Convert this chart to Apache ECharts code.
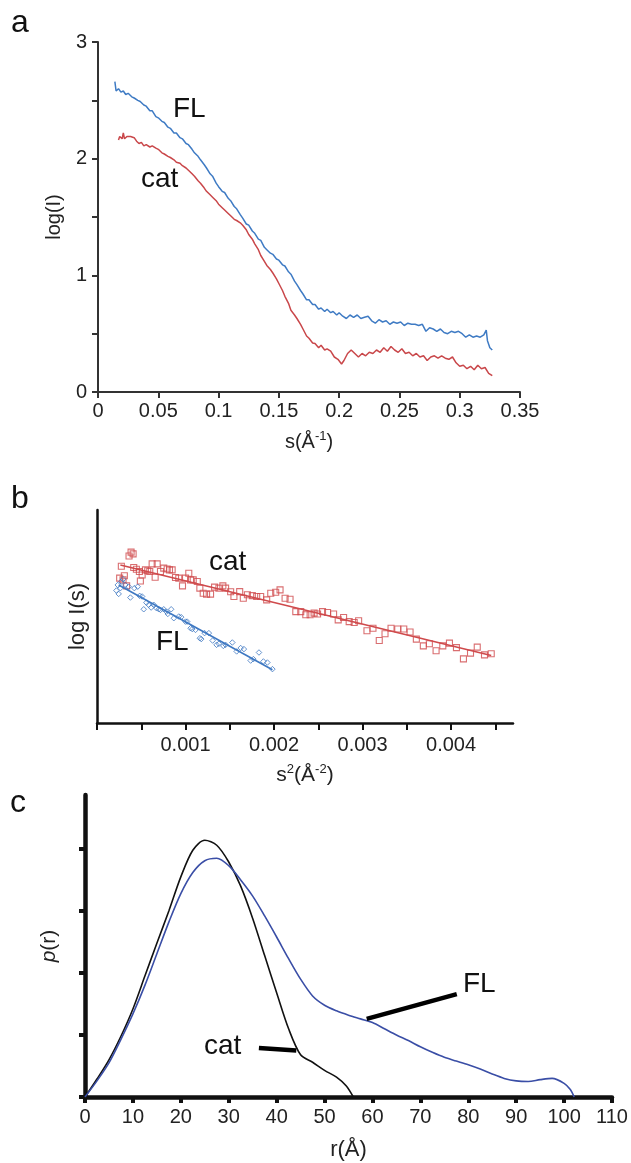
<!DOCTYPE html>
<html><head><meta charset="utf-8">
<script src="https://cdn.jsdelivr.net/npm/echarts@6/dist/echarts.min.js"></script>
<style>html,body{margin:0;padding:0;background:#fff}#c{width:631px;height:1163px}</style>
</head><body><div id="c"></div>
<script>
const FONT = "'Liberation Sans', Arial, sans-serif";

// ---------- Panel a : log(I) vs s ----------
const aS_FL = [0.014,0.015,0.017,0.019,0.021,0.023,0.025,0.028,0.030,0.033,0.035,0.038,0.040,0.043,0.045,0.048,0.050,0.053,0.055,0.058,0.060,0.063,0.065,0.068,0.070,0.073,0.075,0.078,0.080,0.083,0.085,0.088,0.090,0.093,0.095,0.098,0.100,0.103,0.105,0.108,0.110,0.113,0.115,0.118,0.120,0.123,0.125,0.128,0.130,0.133,0.135,0.138,0.140,0.143,0.145,0.148,0.150,0.153,0.155,0.158,0.160,0.163,0.165,0.168,0.170,0.173,0.175,0.178,0.180,0.183,0.185,0.188,0.190,0.193,0.195,0.198,0.200,0.203,0.206,0.209,0.212,0.215,0.218,0.221,0.224,0.227,0.230,0.233,0.236,0.239,0.242,0.245,0.248,0.251,0.254,0.257,0.260,0.263,0.266,0.269,0.272,0.275,0.278,0.281,0.284,0.287,0.290,0.293,0.296,0.299,0.302,0.305,0.308,0.311,0.314,0.317,0.320,0.322,0.323,0.325,0.327];
const aLogI_FL = [2.66,2.58,2.60,2.57,2.58,2.55,2.56,2.53,2.52,2.50,2.49,2.46,2.45,2.41,2.41,2.36,2.35,2.32,2.31,2.27,2.26,2.22,2.22,2.18,2.17,2.13,2.12,2.08,2.05,2.02,1.99,1.95,1.92,1.87,1.85,1.79,1.76,1.72,1.71,1.66,1.64,1.59,1.57,1.52,1.49,1.44,1.43,1.38,1.36,1.31,1.30,1.24,1.22,1.19,1.18,1.14,1.13,1.09,1.08,1.03,1.01,0.95,0.92,0.87,0.84,0.79,0.79,0.75,0.75,0.71,0.72,0.69,0.71,0.68,0.69,0.66,0.68,0.65,0.63,0.66,0.64,0.66,0.63,0.64,0.65,0.61,0.59,0.62,0.60,0.61,0.58,0.60,0.59,0.60,0.57,0.59,0.58,0.58,0.57,0.58,0.52,0.55,0.54,0.52,0.54,0.51,0.50,0.52,0.51,0.52,0.50,0.47,0.49,0.47,0.48,0.47,0.49,0.53,0.44,0.38,0.36];
const aS_cat = [0.017,0.018,0.020,0.021,0.022,0.024,0.027,0.030,0.032,0.034,0.036,0.038,0.040,0.043,0.045,0.048,0.050,0.053,0.055,0.058,0.060,0.063,0.065,0.068,0.070,0.073,0.075,0.078,0.080,0.083,0.085,0.088,0.090,0.093,0.095,0.098,0.100,0.103,0.105,0.108,0.110,0.113,0.115,0.118,0.120,0.123,0.125,0.128,0.130,0.133,0.135,0.138,0.140,0.143,0.145,0.148,0.150,0.153,0.155,0.158,0.160,0.163,0.165,0.168,0.170,0.173,0.175,0.178,0.180,0.183,0.185,0.188,0.190,0.193,0.196,0.199,0.202,0.204,0.207,0.210,0.213,0.216,0.219,0.222,0.225,0.228,0.231,0.234,0.237,0.240,0.243,0.246,0.249,0.252,0.255,0.258,0.261,0.264,0.267,0.270,0.273,0.276,0.279,0.282,0.285,0.288,0.291,0.294,0.297,0.300,0.303,0.306,0.309,0.312,0.315,0.318,0.321,0.324,0.327];
const aLogI_cat = [2.16,2.19,2.17,2.22,2.17,2.19,2.19,2.18,2.15,2.13,2.14,2.11,2.12,2.10,2.11,2.09,2.08,2.05,2.04,2.02,2.01,1.99,1.97,1.96,1.94,1.92,1.90,1.87,1.85,1.81,1.79,1.75,1.72,1.69,1.67,1.64,1.61,1.58,1.56,1.53,1.51,1.48,1.47,1.45,1.43,1.39,1.35,1.31,1.27,1.22,1.17,1.12,1.085,1.05,1.02,0.97,0.93,0.87,0.82,0.76,0.70,0.66,0.63,0.58,0.54,0.48,0.46,0.42,0.415,0.38,0.40,0.36,0.37,0.35,0.30,0.28,0.24,0.27,0.33,0.36,0.33,0.30,0.33,0.31,0.34,0.33,0.36,0.34,0.38,0.35,0.39,0.36,0.34,0.37,0.33,0.34,0.31,0.33,0.30,0.31,0.27,0.30,0.31,0.29,0.31,0.29,0.28,0.30,0.25,0.22,0.23,0.20,0.22,0.19,0.23,0.20,0.21,0.16,0.14];

// ---------- Panel b : Guinier plot (log I(s) vs s^2, arbitrary units) ----------
const bS2_cat = [0.000385,0.000362,0.000408,0.000275,0.000256,0.000309,0.000335,0.000294,0.000415,0.000445,0.000479,0.00051,0.00049,0.000547,0.000573,0.000596,0.000623,0.00068,0.000657,0.000717,0.000754,0.000793,0.000819,0.000849,0.000887,0.000924,0.000966,0.001,0.001037,0.001057,0.001087,0.001133,0.001162,0.0012,0.001238,0.001283,0.001328,0.001377,0.001422,0.001453,0.00151,0.001547,0.001612,0.001653,0.001699,0.001755,0.001804,0.001849,0.001917,0.001963,0.002019,0.002068,0.002125,0.002181,0.002246,0.002302,0.002359,0.002408,0.002453,0.002492,0.002548,0.002605,0.002673,0.002725,0.002786,0.002849,0.002906,0.002956,0.00305,0.003118,0.003189,0.003254,0.003322,0.003398,0.003466,0.003537,0.003608,0.003687,0.003755,0.003831,0.003907,0.003982,0.004061,0.00414,0.00422,0.004296,0.004378,0.004454];
const bLogI_cat = [8.02,7.84,7.94,7.36,6.80,6.91,6.44,6.72,7.30,7.22,7.11,6.95,6.67,7.19,7.15,7.11,7.47,7.47,6.84,7.11,7.27,7.23,7.19,7.19,6.83,6.80,6.44,6.80,7.03,6.72,6.72,6.64,6.33,6.09,6.05,6.05,6.38,6.33,6.44,6.33,6.16,5.94,6.17,5.86,6.02,5.98,5.94,5.94,5.78,6.09,6.14,6.25,5.86,5.81,5.23,5.23,5.08,5.08,5.16,5.12,5.23,5.19,5.12,4.84,4.95,4.76,4.72,4.80,4.33,4.45,3.87,4.19,4.45,4.41,4.41,4.27,3.94,3.62,3.72,3.39,3.62,3.75,3.54,3.01,3.28,3.56,3.20,3.25];
const bS2_FL = [0.000219,0.000245,0.000234,0.000275,0.000264,0.000294,0.00032,0.000377,0.000358,0.000422,0.00046,0.000482,0.00051,0.000528,0.000558,0.000584,0.000612,0.000641,0.000672,0.000698,0.000717,0.000754,0.000785,0.0008,0.000838,0.000868,0.000924,0.000951,0.001,0.001019,0.001057,0.001076,0.001113,0.001162,0.001178,0.001215,0.001264,0.001306,0.001351,0.001377,0.001427,0.001453,0.001529,0.001578,0.001623,0.00166,0.001736,0.001767,0.00183,0.00188,0.001925,0.001982];
const bLogI_FL = [6.22,6.06,6.48,6.64,6.33,6.75,6.48,5.89,6.40,6.33,6.40,5.97,5.94,5.34,5.65,5.55,5.42,5.55,5.39,5.34,5.31,5.34,5.23,5.12,5.34,4.92,5.00,4.97,4.76,4.76,4.45,4.41,4.37,3.98,3.94,4.22,4.22,3.87,3.67,3.72,3.62,3.67,3.78,3.36,3.52,3.47,2.93,3.00,3.31,2.89,2.84,2.53];
const bFitS2_cat = [0.000264, 0.004454];
const bFitLogI_cat = [7.42, 3.17];
const bFitS2_FL = [0.000245, 0.001982];
const bFitLogI_FL = [6.48, 2.50];

// ---------- Panel c : pair distance distribution p(r) ----------
const cR_cat = [0,2.5,5,7.5,10,12.5,15,17.5,20,22.5,25,27.5,30,32.5,35,37.5,40,42.5,45,47.5,50,52.5,54.5,56];
const cP_cat = [0,0.29,0.60,0.98,1.42,1.95,2.48,3.00,3.55,3.98,4.14,4.06,3.79,3.40,2.88,2.28,1.68,1.10,0.68,0.56,0.43,0.32,0.18,0];
const cR_FL = [0,2.5,5,7.5,10,12.5,15,17.5,20,22.5,25,27.5,30,32.5,35,37.5,40,42.5,45,47.5,50,52.5,55,57.5,60,62.5,65,67.5,70,72.5,75,77.5,80,82.5,85,87.5,90,92.5,95,97.5,100,101.3,102.1];
const cP_FL = [0,0.26,0.55,0.93,1.34,1.80,2.31,2.82,3.28,3.62,3.81,3.85,3.73,3.50,3.24,2.92,2.58,2.23,1.90,1.63,1.48,1.39,1.32,1.26,1.20,1.10,1.00,0.91,0.81,0.72,0.64,0.58,0.52,0.45,0.37,0.30,0.26,0.25,0.28,0.30,0.22,0.12,0];
const cXTicks = [0,10,20,30,40,50,60,70,80,90,100,110];

const zip = (xs, ys) => xs.map((x, i) => [x, ys[i]]);

const RED_A = '#c9474a', BLUE_A = '#3f7bc4';
const RED_B = '#cf4a4c', BLUE_B = '#3e78c2';
const BLUE_C = '#3a4ea6';

const chart = echarts.init(document.getElementById('c'), null, {renderer: 'canvas'});

const isK = (v, k) => Math.abs(v * k - Math.round(v * k)) < 1e-6;

const option = {
  animation: false,
  backgroundColor: '#ffffff',
  textStyle: {fontFamily: FONT},
  grid: [
    {left: 98, top: 42, width: 422, height: 350},
    {left: 97, top: 510, width: 416, height: 213},
    {left: 85, top: 795, width: 527, height: 302}
  ],
  xAxis: [
    {
      gridIndex: 0, type: 'value', min: 0, max: 0.35, interval: 0.05,
      axisLine: {lineStyle: {color: '#333', width: 2}},
      axisTick: {show: true, inside: false, length: 6, lineStyle: {color: '#333', width: 2}},
      axisLabel: {color: '#222', fontSize: 20, fontFamily: FONT, margin: 9},
      splitLine: {show: false},
      name: '{a|s(Å}{s|-1}{a|)}', nameLocation: 'middle', nameGap: 38,
      nameTextStyle: {rich: {a: {fontSize: 20, color: '#222', fontFamily: FONT, lineHeight: 24}, s: {fontSize: 13, color: '#222', fontFamily: FONT, verticalAlign: 'top', lineHeight: 14}}}
    },
    {
      gridIndex: 1, type: 'value', min: 0, max: 0.0047,
      axisLine: {lineStyle: {color: '#111', width: 2.5}},
      axisTick: {show: true, length: 7, lineStyle: {color: '#111', width: 2},
        customValues: [0,0.0005,0.001,0.0015,0.002,0.0025,0.003,0.0035,0.004,0.0045]},
      axisLabel: {color: '#222', fontSize: 20, fontFamily: FONT, margin: 12,
        customValues: [0.001,0.002,0.003,0.004],
        formatter: v => v.toFixed(3)},
      splitLine: {show: false},
      name: '{a|s}{s|2}{a|(Å}{s|-2}{a|)}', nameLocation: 'middle', nameGap: 40,
      nameTextStyle: {rich: {a: {fontSize: 21, color: '#222', fontFamily: FONT, lineHeight: 25}, s: {fontSize: 13, color: '#222', fontFamily: FONT, verticalAlign: 'top', lineHeight: 14}}}
    },
    {
      gridIndex: 2, type: 'value', min: 0, max: 110, interval: 10,
      axisLine: {lineStyle: {color: '#111', width: 4.5}},
      axisTick: {show: true, length: 6, lineStyle: {color: '#111', width: 4}, customValues: cXTicks},
      axisLabel: {color: '#222', fontSize: 20, fontFamily: FONT, margin: 10, customValues: cXTicks},
      splitLine: {show: false},
      name: 'r(Å)', nameLocation: 'middle', nameGap: 42,
      nameTextStyle: {fontSize: 22, color: '#222', fontFamily: FONT}
    }
  ],
  yAxis: [
    {
      gridIndex: 0, type: 'value', min: 0, max: 3, interval: 0.5,
      axisLine: {show: true, lineStyle: {color: '#333', width: 2}},
      axisTick: {show: true, length: 6, lineStyle: {color: '#333', width: 2}},
      axisLabel: {color: '#222', fontSize: 20, fontFamily: FONT, margin: 11,
        formatter: v => (isK(v, 1) ? String(Math.round(v)) : '')},
      splitLine: {show: false},
      name: 'log(I)', nameLocation: 'middle', nameGap: 28, nameRotate: 90,
      nameTextStyle: {fontSize: 20, color: '#222', fontFamily: FONT}
    },
    {
      gridIndex: 1, type: 'value', min: 0, max: 10,
      axisLine: {show: true, lineStyle: {color: '#111', width: 2.5}},
      axisTick: {show: false},
      axisLabel: {show: false},
      splitLine: {show: false},
      name: 'log I(s)', nameLocation: 'middle', nameGap: 8, nameRotate: 90,
      nameTextStyle: {fontSize: 22, color: '#222', fontFamily: FONT}
    },
    {
      gridIndex: 2, type: 'value', min: 0, max: 4.87,
      axisLine: {show: true, lineStyle: {color: '#111', width: 4.5}},
      axisTick: {show: true, length: 6, lineStyle: {color: '#111', width: 4}, customValues: [0,1,2,3,4]},
      axisLabel: {show: false},
      splitLine: {show: false},
      name: '{i|p}{n|(r)}', nameLocation: 'middle', nameGap: 25, nameRotate: 90,
      nameTextStyle: {rich: {i: {fontSize: 21, fontStyle: 'italic', color: '#222', fontFamily: FONT}, n: {fontSize: 21, color: '#222', fontFamily: FONT}}}
    }
  ],
  series: [
    {name: 'FL', type: 'line', xAxisIndex: 0, yAxisIndex: 0, data: zip(aS_FL, aLogI_FL),
      showSymbol: false, lineStyle: {color: BLUE_A, width: 1.5}, itemStyle: {color: BLUE_A}},
    {name: 'cat', type: 'line', xAxisIndex: 0, yAxisIndex: 0, data: zip(aS_cat, aLogI_cat),
      showSymbol: false, lineStyle: {color: RED_A, width: 1.5}, itemStyle: {color: RED_A}},

    {name: 'cat data', type: 'scatter', xAxisIndex: 1, yAxisIndex: 1, data: zip(bS2_cat, bLogI_cat),
      symbol: 'rect', symbolSize: 6, itemStyle: {color: 'rgba(255,255,255,0)', borderColor: RED_B, borderWidth: 1.1}},
    {name: 'FL data', type: 'scatter', xAxisIndex: 1, yAxisIndex: 1, data: zip(bS2_FL, bLogI_FL),
      symbol: 'diamond', symbolSize: 5.5, itemStyle: {color: 'rgba(255,255,255,0)', borderColor: BLUE_B, borderWidth: 1}},
    {name: 'cat fit', type: 'line', xAxisIndex: 1, yAxisIndex: 1, data: zip(bFitS2_cat, bFitLogI_cat),
      showSymbol: false, lineStyle: {color: RED_B, width: 1.6}},
    {name: 'FL fit', type: 'line', xAxisIndex: 1, yAxisIndex: 1, data: zip(bFitS2_FL, bFitLogI_FL),
      showSymbol: false, lineStyle: {color: BLUE_B, width: 1.6}},

    {name: 'cat p(r)', type: 'line', xAxisIndex: 2, yAxisIndex: 2, data: zip(cR_cat, cP_cat),
      smooth: 0.3, showSymbol: false, lineStyle: {color: '#111', width: 1.6}, itemStyle: {color: '#111'},
      markLine: {silent: true, symbol: ['none', 'none'], label: {show: false},
        lineStyle: {color: '#000', width: 4.5, type: 'solid'},
        data: [[{coord: [36.3, 0.79]}, {coord: [44.1, 0.75]}]]}},
    {name: 'FL p(r)', type: 'line', xAxisIndex: 2, yAxisIndex: 2, data: zip(cR_FL, cP_FL),
      smooth: 0.3, showSymbol: false, lineStyle: {color: BLUE_C, width: 1.6}, itemStyle: {color: BLUE_C},
      markLine: {silent: true, symbol: ['none', 'none'], label: {show: false},
        lineStyle: {color: '#000', width: 4.5, type: 'solid'},
        data: [[{coord: [58.8, 1.26]}, {coord: [77.6, 1.66]}]]}}
  ],
  graphic: [
    {type: 'text', left: 11, top: 7, style: {text: 'a', font: '32px ' + FONT, fill: '#111'}},
    {type: 'text', left: 11, top: 483, style: {text: 'b', font: '32px ' + FONT, fill: '#111'}},
    {type: 'text', left: 10, top: 787, style: {text: 'c', font: '32px ' + FONT, fill: '#111'}},
    {type: 'text', left: 173, top: 95, style: {text: 'FL', font: '28px ' + FONT, fill: '#111'}},
    {type: 'text', left: 141, top: 165, style: {text: 'cat', font: '28px ' + FONT, fill: '#111'}},
    {type: 'text', left: 209, top: 548, style: {text: 'cat', font: '28px ' + FONT, fill: '#111'}},
    {type: 'text', left: 156, top: 628, style: {text: 'FL', font: '28px ' + FONT, fill: '#111'}},
    {type: 'text', left: 204, top: 1032, style: {text: 'cat', font: '28px ' + FONT, fill: '#111'}},
    {type: 'text', left: 463, top: 970, style: {text: 'FL', font: '28px ' + FONT, fill: '#111'}}
  ]
};
chart.setOption(option);
</script>
</body></html>
